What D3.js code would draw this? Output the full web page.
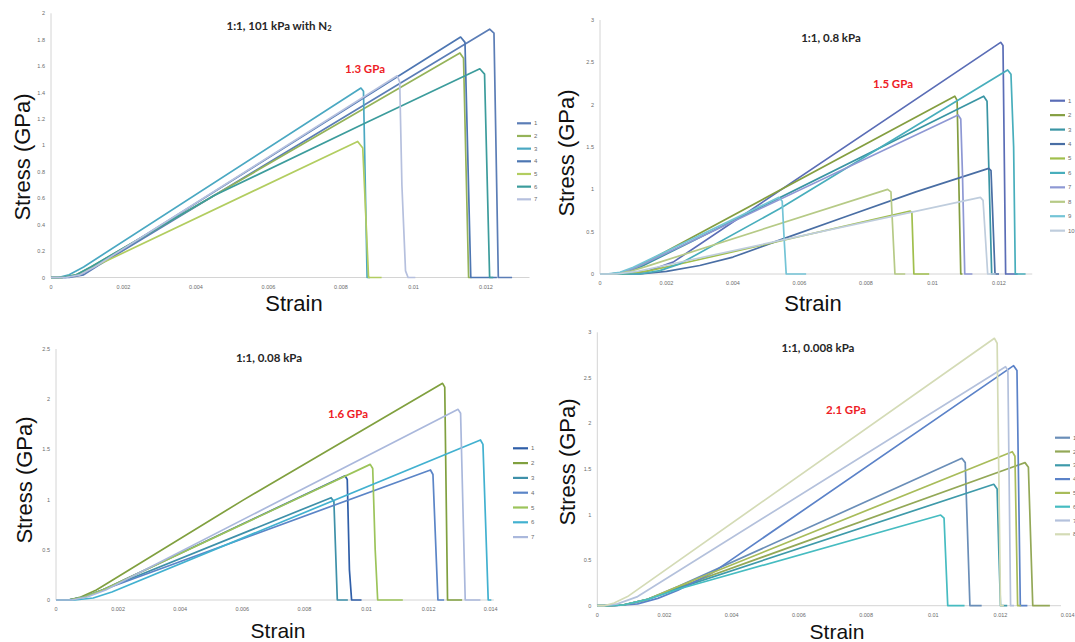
<!DOCTYPE html>
<html>
<head>
<meta charset="utf-8">
<script src="https://cdn.jsdelivr.net/npm/d3@7"></script>
<style>
  body { margin: 0; background: #fff; }
  svg { display: block; }
</style>
</head>
<body>
<svg id="fig" width="1075" height="642"></svg>
<script>
// ---- data: [strain, stress (GPa)] ----
const p1Labels = ["1","2","3","4","5","6","7"];
const p1Curves = [
  [[0,0],[0.0005,0],[0.0009,0.02],[0.0013,0.09],[0.0121,1.88],[0.01222,1.85],[0.01234,0],[0.01272,0]],
  [[0,0],[0.0003,0],[0.0007,0.02],[0.0011,0.08],[0.01128,1.70],[0.01138,1.66],[0.01152,0],[0.0116,0]],
  [[0,0],[0.0002,0],[0.0005,0.02],[0.0009,0.08],[0.00855,1.434],[0.00862,1.41],[0.00872,0],[0.0088,0]],
  [[0,0],[0.0004,0],[0.0008,0.02],[0.0012,0.08],[0.0113,1.82],[0.01142,1.78],[0.01158,0],[0.0123,0]],
  [[0,0],[0.0003,0],[0.0007,0.02],[0.0011,0.07],[0.00846,1.03],[0.0086,0.98],[0.00876,0],[0.00912,0]],
  [[0,0],[0.0003,0],[0.0007,0.02],[0.0011,0.08],[0.0045,0.62],[0.0086,1.16],[0.01183,1.58],[0.01196,1.54],[0.0121,0],[0.0122,0]],
  [[0,0],[0.0004,0],[0.0008,0.02],[0.0012,0.08],[0.00955,1.527],[0.00962,1.48],[0.00968,0.7],[0.00978,0.05],[0.00985,0],[0.01005,0]]
];
const p1XTicks = [0, 0.002, 0.004, 0.006, 0.008, 0.01, 0.012];
const p1YTicks = [0, 0.2, 0.4, 0.6, 0.8, 1, 1.2, 1.4, 1.6, 1.8, 2];

const p2Labels = ["1","2","3","4","5","6","7","8","9","10"];
const p2Curves = [
  [[0,0],[0.0008,0],[0.0014,0.03],[0.0022,0.14],[0.01205,2.736],[0.01212,2.70],[0.0122,0],[0.01256,0]],
  [[0,0],[0.0003,0],[0.0007,0.02],[0.0011,0.08],[0.01067,2.10],[0.01074,2.05],[0.01085,0],[0.0109,0]],
  [[0,0],[0.0004,0],[0.0008,0.02],[0.0012,0.08],[0.01154,2.10],[0.01164,2.04],[0.01178,0],[0.01188,0]],
  [[0,0],[0.0012,0],[0.002,0.03],[0.003,0.1],[0.004,0.2],[0.0054,0.4],[0.0074,0.68],[0.0095,0.97],[0.01169,1.248],[0.01176,1.22],[0.01188,0],[0.012,0]],
  [[0,0],[0.0008,0],[0.0015,0.04],[0.0022,0.1],[0.00933,0.744],[0.00938,0.72],[0.00944,0],[0.0099,0]],
  [[0,0],[0.0012,0],[0.0018,0.04],[0.0024,0.12],[0.0054,0.77],[0.01226,2.41],[0.01236,2.36],[0.01244,1.5],[0.01249,0],[0.0128,0]],
  [[0,0],[0.0003,0],[0.0007,0.02],[0.0011,0.08],[0.01077,1.878],[0.01085,1.83],[0.0109,1.2],[0.01097,0],[0.0112,0]],
  [[0,0],[0.0004,0],[0.0009,0.03],[0.0014,0.09],[0.00865,1.0],[0.00875,0.97],[0.00887,0],[0.00918,0]],
  [[0,0],[0.0002,0],[0.0006,0.02],[0.001,0.08],[0.00538,0.905],[0.00548,0.86],[0.00554,0.4],[0.0056,0],[0.0062,0]],
  [[0,0],[0.0005,0],[0.0011,0.03],[0.0017,0.08],[0.01144,0.905],[0.01152,0.87],[0.01158,0.5],[0.01166,0],[0.0119,0]]
];
const p2XTicks = [0, 0.002, 0.004, 0.006, 0.008, 0.01, 0.012];
const p2YTicks = [0, 0.5, 1, 1.5, 2, 2.5, 3];

const p3Labels = ["1","2","3","4","5","6","7"];
const p3Curves = [
  [[0,0],[0.0004,0],[0.0009,0.03],[0.0015,0.1],[0.00931,1.238],[0.00938,1.2],[0.00945,0.3],[0.00952,0],[0.00984,0]],
  [[0,0],[0.0004,0],[0.0008,0.03],[0.0013,0.1],[0.006,0.99],[0.01245,2.158],[0.01252,2.12],[0.01261,0],[0.01308,0]],
  [[0,0],[0.0004,0],[0.0009,0.03],[0.0015,0.1],[0.00886,1.019],[0.00895,0.98],[0.00906,0],[0.0094,0]],
  [[0,0],[0.0004,0],[0.0009,0.03],[0.0015,0.1],[0.01206,1.295],[0.01214,1.25],[0.0123,0],[0.0125,0]],
  [[0,0],[0.0004,0],[0.0009,0.03],[0.0015,0.1],[0.01012,1.351],[0.0102,1.31],[0.01028,0.5],[0.01036,0],[0.01117,0]],
  [[0,0],[0.0006,0],[0.0012,0.02],[0.0018,0.08],[0.01367,1.594],[0.01375,1.55],[0.01392,0],[0.01402,0]],
  [[0,0],[0.0005,0],[0.001,0.03],[0.0016,0.1],[0.01295,1.899],[0.01303,1.86],[0.01318,0],[0.01367,0]]
];
const p3XTicks = [0, 0.002, 0.004, 0.006, 0.008, 0.01, 0.012, 0.014];
const p3YTicks = [0, 0.5, 1, 1.5, 2, 2.5];

const p4Labels = ["1","2","3","4","5","6","7","8"];
const p4Curves = [
  [[0,0],[0.0003,0],[0.0008,0.01],[0.0015,0.07],[0.0024,0.21],[0.01085,1.617],[0.01095,1.57],[0.01109,0],[0.01144,0]],
  [[0,0],[0.0003,0],[0.0008,0.01],[0.0015,0.07],[0.0024,0.2],[0.01273,1.57],[0.01283,1.52],[0.01296,0],[0.01347,0]],
  [[0,0],[0.0003,0],[0.0008,0.01],[0.0015,0.07],[0.0024,0.19],[0.0118,1.332],[0.0119,1.28],[0.01195,0.6],[0.012,0],[0.0122,0]],
  [[0,0],[0.0005,0],[0.0012,0.02],[0.0018,0.08],[0.0024,0.17],[0.0034,0.355],[0.01239,2.634],[0.01249,2.58],[0.01259,0],[0.0128,0]],
  [[0,0],[0.0003,0],[0.0008,0.01],[0.0015,0.07],[0.0024,0.21],[0.01235,1.69],[0.01243,1.64],[0.01251,0],[0.0126,0]],
  [[0,0],[0.0003,0],[0.0008,0.01],[0.0015,0.07],[0.0024,0.18],[0.01022,0.995],[0.01032,0.96],[0.01043,0],[0.01093,0]],
  [[0,0],[0.0002,0],[0.0006,0.02],[0.0012,0.1],[0.01215,2.623],[0.01222,2.58],[0.0123,0],[0.0124,0]],
  [[0,0],[0.0002,0],[0.0005,0.03],[0.0009,0.1],[0.01182,2.934],[0.0119,2.88],[0.012,0],[0.0121,0]]
];
const p4XTicks = [0, 0.002, 0.004, 0.006, 0.008, 0.01, 0.012, 0.014];
const p4YTicks = [0, 0.5, 1, 1.5, 2, 2.5, 3];

// series colours (Excel blue-green palette as seen in the figure)
const p1Colors = ["#5b7db6","#95b359","#4aa8c2","#4d76b2","#b2cd60","#3c9c9c","#b6c0de"];
const p2Colors = ["#5a6db6","#849e40","#3a95a4","#496ea4","#a0bf4c","#48aebc","#8e98d4","#b6ca86","#74c4d6","#bfcddd"];
const p3Colors = ["#2f5ea8","#80a03f","#3e90a9","#5b85c7","#9cc45a","#42b1d0","#aab8dc"];
const p4Colors = ["#6a8eb8","#93a857","#3e9aaa","#5b82c8","#a8bc5a","#46bcc1","#b4c1dc","#d4dbb6"];

// ---- layout of each panel (pixels) ----
const panels = [
  { curves: p1Curves, labels: p1Labels, colors: p1Colors, xTicks: p1XTicks, yTicks: p1YTicks,
    x0: 51, x1: 486, xRef: 0.012, xEnd: 0.0132, y0: 277.5, y1: 13.3, yRef: 2,
    title: ["1:1, 101 kPa with N", "2"], titlePos: [279, 25],
    red: "1.3 GPa", redPos: [365, 68],
    stressPos: [22, 157], strainPos: [294, 311], strainSize: 22,
    leg: { x: 517, w: 14, y: 123.3, dy: 12.67 } },
  { curves: p2Curves, labels: p2Labels, colors: p2Colors, xTicks: p2XTicks, yTicks: p2YTicks,
    x0: 600, x1: 999, xRef: 0.012, xEnd: 0.013, y0: 274, y1: 20, yRef: 3,
    title: ["1:1, 0.8 kPa"], titlePos: [831, 37],
    red: "1.5 GPa", redPos: [893, 83],
    stressPos: [566, 153], strainPos: [813, 311], strainSize: 22,
    leg: { x: 1050, w: 15, y: 100.7, dy: 14.44 } },
  { curves: p3Curves, labels: p3Labels, colors: p3Colors, xTicks: p3XTicks, yTicks: p3YTicks,
    x0: 56, x1: 490.7, xRef: 0.014, xEnd: 0.0141, y0: 600, y1: 349, yRef: 2.5,
    title: ["1:1, 0.08 kPa"], titlePos: [269, 357],
    red: "1.6 GPa", redPos: [348, 413],
    stressPos: [24, 480], strainPos: [278, 638], strainSize: 21,
    leg: { x: 513, w: 15, y: 448.3, dy: 14.8 } },
  { curves: p4Curves, labels: p4Labels, colors: p4Colors, xTicks: p4XTicks, yTicks: p4YTicks,
    x0: 597.3, x1: 1000.5, xRef: 0.012, xEnd: 0.0138, y0: 605.7, y1: 332.3, yRef: 3,
    title: ["1:1, 0.008 kPa"], titlePos: [818, 347],
    red: "2.1 GPa", redPos: [846, 409],
    stressPos: [567, 462], strainPos: [837, 639], strainSize: 21,
    leg: { x: 1055, w: 15, y: 437.7, dy: 13.8 } }
];

const svg = d3.select("#fig");
const tickFmt = d => d3.format("~g")(d);

function drawPanel(p) {
  const x = d3.scaleLinear().domain([0, p.xRef]).range([p.x0, p.x1]);
  const y = d3.scaleLinear().domain([0, p.yRef]).range([p.y0, p.y1]);
  const g = svg.append("g");

  // axis lines (Excel style: thin light grey, no tick marks)
  g.append("line")
    .attr("x1", x(0)).attr("x2", x(p.xEnd))
    .attr("y1", y(0)).attr("y2", y(0))
    .attr("stroke", "#d4d4d4").attr("stroke-width", 1);
  g.append("line")
    .attr("x1", x(0)).attr("x2", x(0))
    .attr("y1", y(0)).attr("y2", y(p.yTicks[p.yTicks.length - 1]))
    .attr("stroke", "#d4d4d4").attr("stroke-width", 1);

  g.selectAll("text.xt")
    .data(p.xTicks)
    .join("text")
    .attr("x", d => x(d))
    .attr("y", y(0) + 11)
    .attr("text-anchor", "middle")
    .attr("font-family", "Liberation Sans, Arial, sans-serif")
    .attr("font-size", 5.5)
    .attr("fill", "#6b6b6b")
    .text(tickFmt);

  g.selectAll("text.yt")
    .data(p.yTicks)
    .join("text")
    .attr("x", x(0) - 6)
    .attr("y", d => y(d) + 2)
    .attr("text-anchor", "end")
    .attr("font-family", "Liberation Sans, Arial, sans-serif")
    .attr("font-size", 5.5)
    .attr("fill", "#6b6b6b")
    .text(tickFmt);

  // curves: straight segments between the read points, as in the raw data
  const line = d3.line()
    .x(d => x(d[0]))
    .y(d => y(d[1]))
    .curve(d3.curveLinear);

  g.selectAll("path.curve")
    .data(p.curves)
    .join("path")
    .attr("d", line)
    .attr("fill", "none")
    .attr("stroke", (d, i) => p.colors[i])
    .attr("stroke-width", 1.7)
    .attr("stroke-linejoin", "round");

  // legend
  const leg = g.selectAll("g.leg")
    .data(p.labels)
    .join("g")
    .attr("transform", (d, i) => `translate(${p.leg.x},${p.leg.y + i * p.leg.dy})`);
  leg.append("line")
    .attr("x1", 0).attr("x2", p.leg.w)
    .attr("stroke", (d, i) => p.colors[i])
    .attr("stroke-width", 2.2);
  leg.append("text")
    .attr("x", p.leg.w + 3)
    .attr("y", 2)
    .attr("font-family", "Liberation Sans, Arial, sans-serif")
    .attr("font-size", 6)
    .attr("fill", "#6b6b6b")
    .text(d => d);

  // title
  const t = g.append("text")
    .attr("x", p.titlePos[0]).attr("y", p.titlePos[1])
    .attr("text-anchor", "middle")
    .attr("dominant-baseline", "central")
    .attr("font-family", "Lato, Carlito, sans-serif")
    .attr("font-weight", "bold")
    .attr("font-size", 11.5)
    .attr("fill", "#262626");
  t.append("tspan").text(p.title[0]);
  if (p.title[1]) {
    t.append("tspan").attr("font-size", 7.5).attr("dy", 3).text(p.title[1]);
  }

  g.append("text")
    .attr("x", p.redPos[0]).attr("y", p.redPos[1])
    .attr("text-anchor", "middle")
    .attr("dominant-baseline", "central")
    .attr("font-family", "Lato, Carlito, sans-serif")
    .attr("font-weight", "bold")
    .attr("font-size", 11.5)
    .attr("fill", "#ee1c25")
    .text(p.red);

  g.append("text")
    .attr("transform", `translate(${p.stressPos[0]},${p.stressPos[1]}) rotate(-90)`)
    .attr("text-anchor", "middle")
    .attr("dominant-baseline", "central")
    .attr("font-family", "Liberation Sans, Arial, sans-serif")
    .attr("font-size", 22)
    .attr("fill", "#111")
    .text("Stress (GPa)");

  // axis title sits on its baseline
  g.append("text")
    .attr("x", p.strainPos[0]).attr("y", p.strainPos[1])
    .attr("text-anchor", "middle")
    .attr("font-family", "Liberation Sans, Arial, sans-serif")
    .attr("font-size", p.strainSize)
    .attr("fill", "#111")
    .text("Strain");
}

panels.forEach(drawPanel);
</script>
</body>
</html>
